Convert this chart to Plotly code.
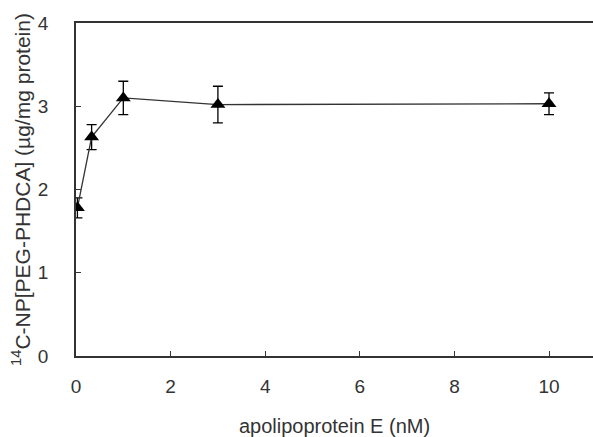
import plotly.graph_objects as go

apoE_nM = [0.03, 0.33, 1.0, 3.0, 10.0]
uptake = [1.78, 2.63, 3.10, 3.02, 3.03]
uptake_err = [0.12, 0.15, 0.20, 0.22, 0.13]
x_ticks = [0, 2, 4, 6, 8, 10]
y_ticks = [0, 1, 2, 3, 4]

fig = go.Figure()
fig.add_trace(go.Scatter(
    x=apoE_nM, y=uptake,
    mode="lines+markers",
    line=dict(color="#333333", width=1.3),
    marker=dict(symbol="triangle-up", size=13, color="black"),
    error_y=dict(type="data", array=uptake_err, visible=True,
                 color="black", thickness=1.3, width=5),
    showlegend=False,
))

font = dict(family="Liberation Sans, Arial, sans-serif", size=19, color="#333333")

fig.update_layout(
    width=593, height=437,
    margin=dict(l=76, r=0, t=23, b=81),
    paper_bgcolor="white", plot_bgcolor="white",
    font=font,
    xaxis=dict(
        range=[0, 10.93], tickvals=x_ticks, automargin=False,
        showline=True, linecolor="#333333", linewidth=1.5, mirror=True,
        ticks="inside", ticklen=5, tickcolor="#333333", tickwidth=1.2,
        showgrid=False, zeroline=False,
        title=dict(text="apolipoprotein E (nM)", font=dict(size=20), standoff=24),
        ticklabelstandoff=12,
    ),
    yaxis=dict(
        range=[0, 4], tickvals=y_ticks, automargin=False,
        showline=True, linecolor="#333333", linewidth=1.5,
        ticks="inside", ticklen=5, tickcolor="#333333", tickwidth=1.2,
        showgrid=False, zeroline=False,
        title=dict(text="<sup>14</sup>C-NP[PEG-PHDCA] (µg/mg protein)", font=dict(size=21), standoff=2),
        ticklabelstandoff=22,
    ),
)

# remove the browser's default 8px page margin so the figure fills the window
fig.write_html(
    "out.html",
    config={"displayModeBar": False},
    post_script="document.body.style.margin='0';document.body.style.overflow='hidden';",
)
